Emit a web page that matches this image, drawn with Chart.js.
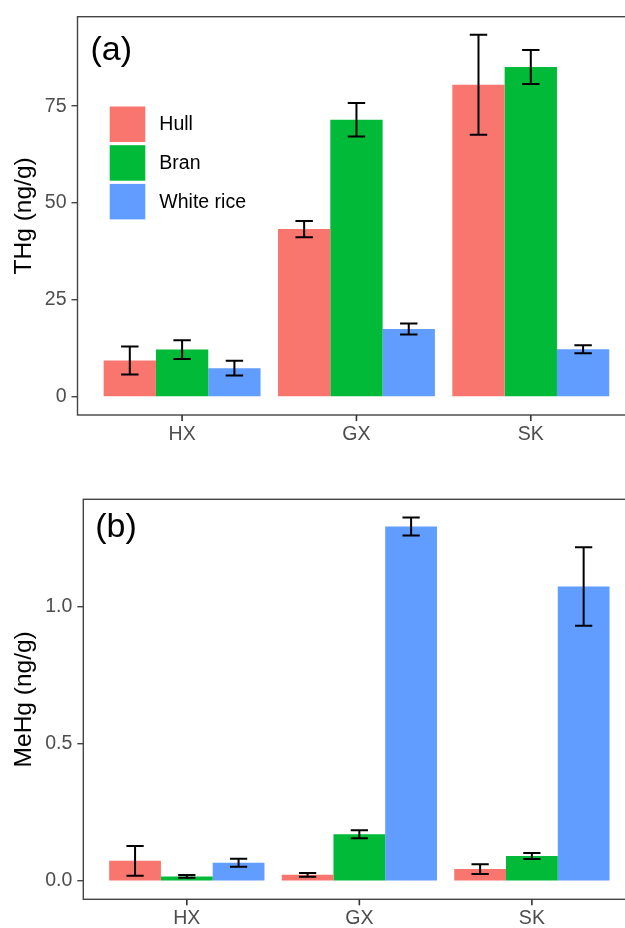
<!DOCTYPE html>
<html>
<head>
<meta charset="utf-8">
<script src="https://cdn.jsdelivr.net/npm/chart.js@4/dist/chart.umd.min.js"></script>
<style>
  html, body { margin: 0; padding: 0; background: #fff; width: 625px; height: 928px; overflow: hidden; }
  .panel { position: absolute; left: 0; }
  #wrapA { top: 0; }
  #wrapB { top: 460px; }
</style>
</head>
<body>
<div class="panel" id="wrapA"><canvas id="chartA" width="640" height="460"></canvas></div>
<div class="panel" id="wrapB"><canvas id="chartB" width="640" height="468"></canvas></div>
<script>
// sites on the x axis, sample types as the three bar groups
const sites = ['HX', 'GX', 'SK'];
const sampleTypes = ['Hull', 'Bran', 'White rice'];
const typeColors = ['#F8766D', '#00BA38', '#619CFF'];

// (a) THg, ng/g  (mean and error half-width)
const thgHull = [9.4, 43.3, 80.5];
const thgBran = [12.2, 71.5, 85.1];
const thgWhite = [7.4, 17.5, 12.3];
const thgHullErr = [3.6, 2.1, 12.9];
const thgBranErr = [2.4, 4.3, 4.4];
const thgWhiteErr = [1.9, 1.4, 1.05];
const thgTicks = [0, 25, 50, 75];
const thgTickLabels = ['0', '25', '50', '75'];

// (b) MeHg, ng/g
const mehgHull = [0.074, 0.023, 0.044];
const mehgBran = [0.017, 0.171, 0.092];
const mehgWhite = [0.067, 1.294, 1.075];
const mehgHullErr = [0.054, 0.007, 0.018];
const mehgBranErr = [0.005, 0.015, 0.011];
const mehgWhiteErr = [0.015, 0.033, 0.143];
const mehgTicks = [0, 0.5, 1.0];
const mehgTickLabels = ['0.0', '0.5', '1.0'];

Chart.defaults.font.family = '"Liberation Sans", Arial, sans-serif';

const errorBars = {
  id: 'errorBars',
  afterDatasetsDraw(chart) {
    const { ctx, scales: { x, y } } = chart;
    const half = x.getPixelForValue(1.05) - x.getPixelForValue(1);
    ctx.save();
    ctx.strokeStyle = '#000';
    ctx.lineWidth = 2;
    chart.data.datasets.forEach((ds, i) => {
      chart.getDatasetMeta(i).data.forEach((bar, j) => {
        const v = ds.data[j].y, e = ds.errors[j];
        const yt = y.getPixelForValue(v + e);
        const yb = y.getPixelForValue(v - e);
        ctx.beginPath();
        ctx.moveTo(bar.x, yt); ctx.lineTo(bar.x, yb);
        ctx.moveTo(bar.x - half, yt); ctx.lineTo(bar.x + half, yt);
        ctx.moveTo(bar.x - half, yb); ctx.lineTo(bar.x + half, yb);
        ctx.stroke();
      });
    });
    ctx.restore();
  }
};

const panelDecor = {
  id: 'panelDecor',
  afterDraw(chart, args, opts) {
    const { ctx, chartArea: a, scales: { x } } = chart;
    ctx.save();
    ctx.strokeStyle = '#444';
    ctx.lineWidth = 1.4;
    ctx.strokeRect(a.left, a.top, a.right - a.left, a.bottom - a.top);

    // x tick marks under each site
    ctx.fillStyle = '#333';
    sites.forEach((s, i) => {
      const px = x.getPixelForValue(i + 1);
      ctx.fillRect(px - 0.8, a.bottom, 1.6, 6);
    });

    ctx.fillStyle = '#000';
    ctx.font = '34px "Liberation Sans", Arial, sans-serif';
    ctx.textBaseline = 'alphabetic';
    ctx.fillText(opts.label, a.left + opts.labelDx, a.top + opts.labelDy);

    if (opts.legend) {
      ctx.font = '19.5px "Liberation Sans", Arial, sans-serif';
      ctx.textBaseline = 'middle';
      sampleTypes.forEach((name, i) => {
        const top = a.top + 89.8 + i * 38.7;
        ctx.fillStyle = typeColors[i];
        ctx.fillRect(a.left + 32.2, top, 35.6, 35.5);
        ctx.fillStyle = '#000';
        ctx.fillText(name, a.left + 81.8, top + 18.5);
      });
    }
    ctx.restore();
  }
};

function makePanel(id, series, errs, yTicks, yTickLabels, yTitle, label, layout) {
  const tops = series.flatMap((s, i) => s.map((v, j) => v + errs[i][j]));
  const top = Math.max(...tops);
  const yMin = -0.05 * top, yMax = top * 1.05;
  new Chart(document.getElementById(id), {
    type: 'bar',
    data: {
      datasets: sampleTypes.map((name, i) => ({
        label: name,
        data: sites.map((s, j) => ({ x: j + 1, y: series[i][j] })),
        errors: errs[i],
        backgroundColor: typeColors[i],
        borderWidth: 0,
        barPercentage: 1,
        categoryPercentage: 0.9
      }))
    },
    options: {
      responsive: false,
      animation: false,
      devicePixelRatio: 1,
      layout: { padding: { top: layout.top, right: 4.6, left: 0, bottom: 0 } },
      scales: {
        x: {
          type: 'linear', min: 0.4, max: 3.6, offset: false,
          afterBuildTicks: s => { s.ticks = sites.map((_, i) => ({ value: i + 1 })); },
          afterFit: s => { s.height = layout.xHeight; },
          ticks: {
            callback: (v, i) => sites[i],
            color: '#4d4d4d', font: { size: 19.5 }, padding: 2,
            maxRotation: 0, autoSkip: false
          },
          grid: { offset: false, drawOnChartArea: false, drawTicks: true, tickLength: 6, color: 'rgba(0,0,0,0)' },
          border: { display: false }
        },
        y: {
          min: yMin, max: yMax,
          afterBuildTicks: s => { s.ticks = yTicks.map(v => ({ value: v })); },
          afterFit: s => { s.width = layout.yWidth; },
          ticks: {
            callback: (v, i) => yTickLabels[i],
            color: '#4d4d4d', font: { size: 19.5 }, padding: 5
          },
          grid: { drawOnChartArea: false, drawTicks: true, tickLength: 6, color: '#444', lineWidth: 1.4 },
          border: { display: false },
          title: { display: true, text: yTitle, color: '#000', font: { size: 24.5 }, padding: { top: 10, bottom: 0 } }
        }
      },
      plugins: {
        legend: { display: false },
        tooltip: { enabled: false },
        panelDecor: { label: label, labelDx: layout.labelDx, labelDy: layout.labelDy, legend: layout.legend }
      }
    },
    plugins: [errorBars, panelDecor]
  });
}

makePanel('chartA',
  [thgHull, thgBran, thgWhite],
  [thgHullErr, thgBranErr, thgWhiteErr],
  thgTicks, thgTickLabels, 'THg (ng/g)', '(a)',
  { top: 14.5, xHeight: 45, yWidth: 77.5, labelDx: 13, labelDy: 43, legend: true });

makePanel('chartB',
  [mehgHull, mehgBran, mehgWhite],
  [mehgHullErr, mehgBranErr, mehgWhiteErr],
  mehgTicks, mehgTickLabels, 'MeHg (ng/g)', '(b)',
  { top: 39.3, xHeight: 28.7, yWidth: 83.3, labelDx: 12, labelDy: 38, legend: false });
</script>
</body>
</html>
